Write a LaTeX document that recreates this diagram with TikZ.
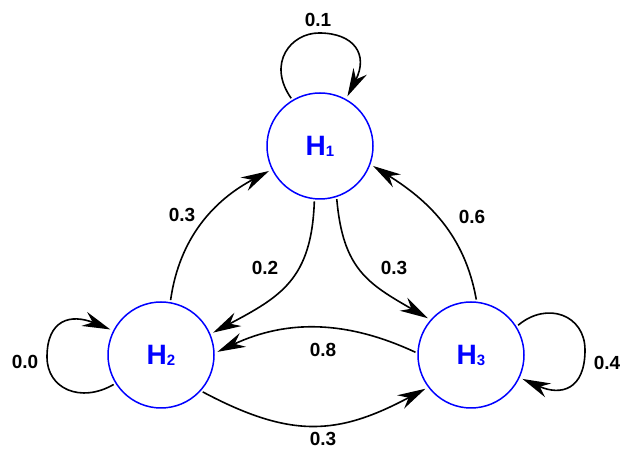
\documentclass[tikz,border=0pt]{standalone}
\usepackage{fontspec}
\setmainfont{Liberation Sans}
\usetikzlibrary{arrows.meta}
\newcommand{\stsub}[1]{\raisebox{-1pt}{\fontsize{15}{15}\selectfont #1}}
\begin{document}
\begin{tikzpicture}[x=1pt,y=1pt,
  state/.style={circle, draw=blue, line width=1.5pt, minimum size=106pt, inner sep=0pt, text=blue, font=\fontsize{28}{28}\selectfont\bfseries},
  trans/.style={draw=black, line width=1.6pt, -{Stealth[length=28pt,width=15pt,inset=9pt]}, shorten >=3pt, shorten <=2pt},
  lbl/.style={font=\fontsize{19}{19}\selectfont\bfseries, inner sep=0pt}]
\useasboundingbox (0,0) rectangle (621,454);
\node[state] (H1) at (320,308) {H\stsub{1}};
\node[state] (H2) at (161,99) {H\stsub{2}};
\node[state] (H3) at (471,99) {H\stsub{3}};
\coordinate (T1) at (319,421);
\coordinate (L2) at (47,97);
\coordinate (R3) at (585,104);

\draw[trans] (H2.80) to[out=82,in=208] (H1.206);
\draw[trans] (H1.264) to[out=268,in=28,looseness=1.2] (H2.23);
\draw[trans] (H1.288) to[out=275,in=150,looseness=1.2] (H3.139);
\draw[trans] (H3.84) to[out=100,in=328] (H1.340);
\draw[trans] (H3.178) to[out=155,in=25] (H2.2);
\draw[trans] (H2.318) to[out=-28,in=208,looseness=1.15] (H3.217);

\draw[trans] (H1.121) .. controls +(125:45) and +(180:28) .. (T1) .. controls +(0:35) and +(63:50) .. (H1.61);
\draw[trans] (H2.212) .. controls +(210:40) and +(270:32) .. (L2) .. controls +(90:38) and +(158:45) .. (H2.153);
\draw[trans] (H3.32) .. controls +(40:40) and +(90:35) .. (R3) .. controls +(270:40) and +(-24:45) .. (H3.-25);

\node[lbl] (l11) at (318,434) {0.1};
\node[lbl] (l22) at (25,92) {0.0};
\node[lbl] (l33) at (607,91) {0.4};
\node[lbl] (l21) at (182,239) {0.3};
\node[lbl] (l12) at (265,186) {0.2};
\node[lbl] (l13) at (394,186) {0.3};
\node[lbl] (l31) at (472,237) {0.6};
\node[lbl] (l32) at (323,104) {0.8};
\node[lbl] (l23) at (323,15) {0.3};
\end{tikzpicture}
\end{document}
